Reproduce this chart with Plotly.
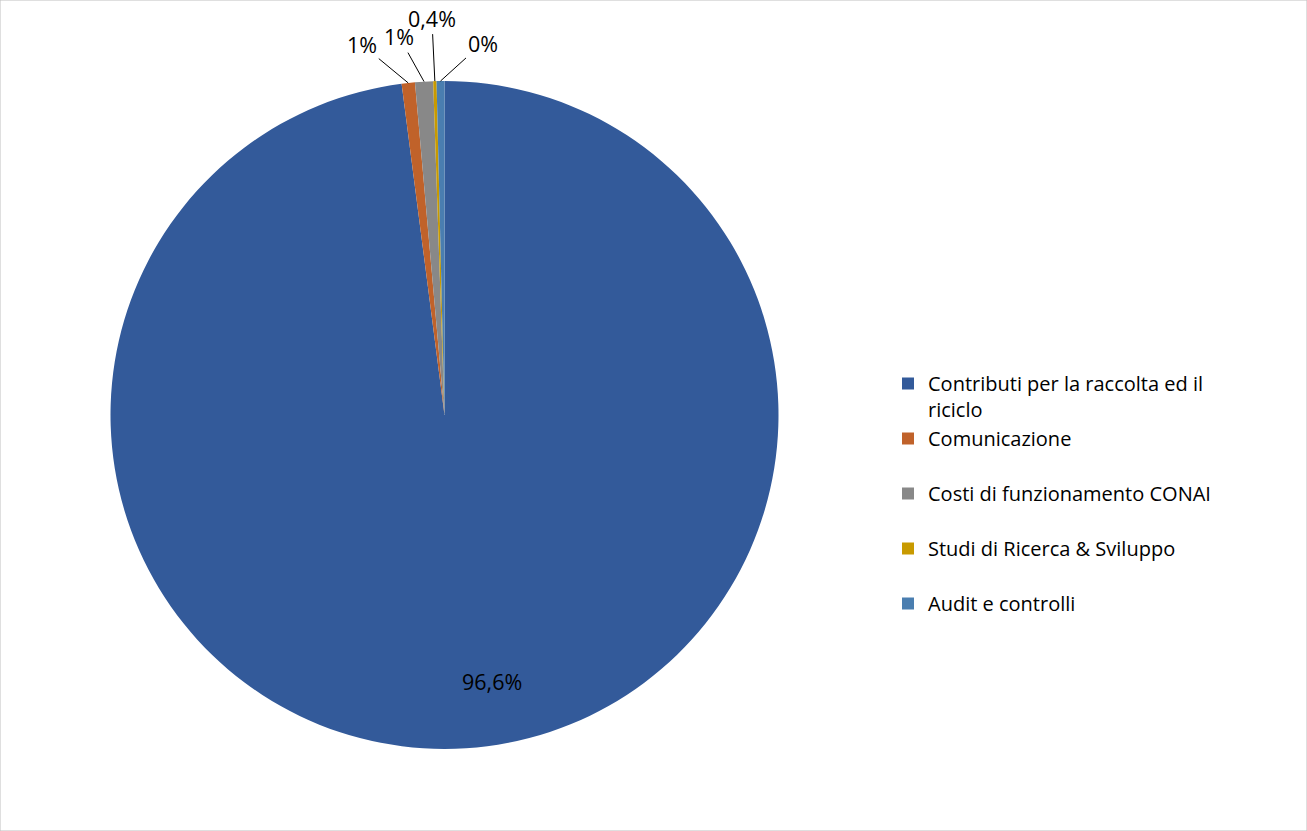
import math
import plotly.graph_objects as go

categories = [
    "Contributi per la raccolta ed il riciclo",
    "Comunicazione",
    "Costi di funzionamento CONAI",
    "Studi di Ricerca & Sviluppo",
    "Audit e controlli",
]
legend_labels = [
    "Contributi per la raccolta ed il<br>riciclo",
    "Comunicazione<br> ",
    "Costi di funzionamento CONAI<br> ",
    "Studi di Ricerca & Sviluppo<br> ",
    "Audit e controlli<br> ",
]
values = [97.95, 0.64, 0.87, 0.16, 0.38]
value_labels = ["96,6%", "1%", "1%", "0,4%", "0%"]
colors = ["#335A9A", "#C0622A", "#888888", "#C89A00", "#4A7EB0"]

W, H = 1307, 831
cx, cy, R = 444.5, 415.0, 334.0  # pie centre / radius in pixels

fig = go.Figure()
fig.add_trace(go.Pie(
    labels=legend_labels,
    values=values,
    sort=False,
    direction="clockwise",
    rotation=0,
    textinfo="none",
    marker=dict(colors=colors, line=dict(width=0)),
    domain=dict(x=[(cx - R) / W, (cx + R) / W], y=[1 - (cy + R) / H, 1 - (cy - R) / H]),
    hoverinfo="label+percent",
))

total = sum(values)
cum = 0.0
offsets = [None, (-46, -38), (-25, -45), (-3, -63), (42, -38)]
font = dict(family="Open Sans, Carlito, sans-serif", size=20, color="#000000")
lab_font = dict(family="Open Sans, Carlito, sans-serif", size=21.5, color="#000000")
for i, v in enumerate(values):
    mid = 2 * math.pi * (cum + v / 2) / total
    cum += v
    if i == 0:
        ang = math.radians(170.5)
        px = cx + 0.86 * R * math.sin(ang)
        py = cy - 0.86 * R * math.cos(ang)
        fig.add_annotation(x=px / W, y=1 - py / H, xref="paper", yref="paper",
                           text=value_labels[i], showarrow=False, font=lab_font)
    else:
        px = cx + R * math.sin(mid)
        py = cy - R * math.cos(mid)
        ax, ay = offsets[i]
        fig.add_annotation(x=px / W, y=1 - py / H, xref="paper", yref="paper",
                           text=value_labels[i], showarrow=True, arrowhead=0,
                           arrowwidth=1, arrowcolor="#000000", ax=ax, ay=ay,
                           font=lab_font, standoff=0)

fig.update_layout(
    width=W, height=H,
    margin=dict(l=0, r=0, t=0, b=0),
    paper_bgcolor="#FFFFFF",
    plot_bgcolor="#FFFFFF",
    font=font,
    legend=dict(x=888 / W, y=1 - 364 / H, xanchor="left", yanchor="top",
                valign="top", font=font, bgcolor="rgba(0,0,0,0)",
                traceorder="normal"),
    shapes=[dict(type="rect", xref="paper", yref="paper", x0=0, y0=0, x1=1, y1=1,
                 line=dict(color="#BFBFBF", width=1))],
)

fig.write_html("out.html", config={"displayModeBar": False},
               post_script="document.body.style.margin='0';document.body.style.overflow='hidden';")
